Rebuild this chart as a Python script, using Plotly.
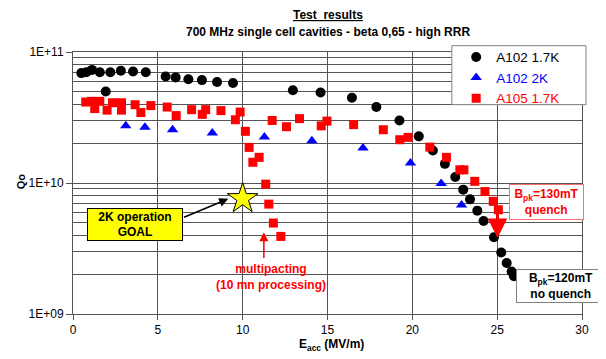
import plotly.graph_objects as go

# ---- data ----
a102_17k_eacc = [0.49, 0.79, 1.12, 1.58, 1.93, 2.2, 2.82, 3.54, 4.29, 5.46, 6.05, 6.8, 7.6, 8.49, 9.43,
                 12.96, 14.59, 16.44, 17.88, 19.24, 20.38, 21.21, 21.92, 22.53, 23.0, 23.4, 23.83,
                 24.2, 24.81, 25.24, 25.56, 25.85, 25.99]
a102_17k_q0 = [6.9e10, 7.0e10, 7.3e10, 7.0e10, 5.0e10, 7.0e10, 7.2e10, 7.1e10, 7.0e10, 6.5e10, 6.4e10,
               6.2e10, 6.1e10, 5.9e10, 5.8e10, 5.1e10, 4.9e10, 4.48e10, 3.8e10, 3.0e10, 2.27e10,
               1.77e10, 1.40e10, 1.11e10, 8.9e9, 7.5e9, 6.15e9, 5.13e9, 3.85e9, 2.95e9, 2.45e9,
               2.11e9, 1.94e9]

a102_2k_eacc = [3.11, 4.24, 5.87, 8.21, 11.28, 14.08, 17.09, 19.89, 21.7, 22.9]
a102_2k_q0 = [2.74e10, 2.67e10, 2.55e10, 2.41e10, 2.24e10, 2.1e10, 1.85e10, 1.42e10, 9.9e9, 6.8e9]

a105_17k_eacc = [0.75, 1.09, 1.28, 1.58, 2.01, 2.33, 2.86, 2.86, 3.66, 4.0, 4.59, 5.55, 6.08, 6.99,
                 7.62, 7.82, 8.72, 9.57, 9.85, 10.16, 10.38, 10.6, 10.97, 11.36, 11.54, 11.81, 12.25,
                 11.74, 12.58, 13.35, 14.63, 14.97, 16.54, 18.29, 19.26, 19.75, 21.03, 22.01, 22.8,
                 23.04, 23.68, 24.28, 24.77, 25.07]
a105_17k_q0 = [4.15e10, 4.2e10, 3.7e10, 4.2e10, 3.6e10, 4.1e10, 4.1e10, 3.6e10, 3.96e10, 3.45e10,
               3.9e10, 3.8e10, 3.27e10, 3.63e10, 3.34e10, 3.63e10, 3.57e10, 3.04e10, 3.48e10,
               2.48e10, 1.87e10, 1.44e10, 1.57e10, 9.8e9, 6.9e9, 4.95e9, 3.91e9, 3.0e10, 2.69e10,
               3.1e10, 2.73e10, 2.97e10, 2.79e10, 2.55e10, 2.14e10, 2.23e10, 1.88e10, 1.57e10,
               1.26e10, 1.26e10, 1.03e10, 8.6e9, 7.25e9, 6.25e9]

goal_eacc = [10]
goal_q0 = [7.6e9]

x_ticks = [0, 5, 10, 15, 20, 25, 30]
y_ticks = [1e9, 1e10, 1e11]
y_tick_labels = ["1E+09", "1E+10", "1E+11"]
y_minor = [k * 10 ** e for e in (9, 10) for k in range(2, 10)]

FONT = "Liberation Sans, Arial, sans-serif"
GRID = "#555555"

fig = go.Figure()
fig.add_trace(go.Scatter(x=a102_17k_eacc, y=a102_17k_q0, mode="markers", name="A102 1.7K",
                         marker=dict(symbol="circle", size=10, color="black")))
fig.add_trace(go.Scatter(x=a102_2k_eacc, y=a102_2k_q0, mode="markers",
                         name='<span style="color:#0000ff">A102 2K</span>',
                         marker=dict(symbol="triangle-up", size=10, color="#0000ff")))
fig.add_trace(go.Scatter(x=a105_17k_eacc, y=a105_17k_q0, mode="markers",
                         name='<span style="color:#ff0000">A105 1.7K</span>',
                         marker=dict(symbol="square", size=9, color="#ff0000")))
fig.add_trace(go.Scatter(x=goal_eacc, y=goal_q0, mode="markers", showlegend=False,
                         marker=dict(symbol="star", size=23, color="#ffff00",
                                     line=dict(color="black", width=1))))

C = dict(xanchor="center", yanchor="middle")
ann = []
# titles
ann.append(dict(xref="paper", yref="paper", x=0.5, y=1.142, text="<b><u>Test  results</u></b>",
                showarrow=False, font=dict(size=12), **C))
ann.append(dict(xref="paper", yref="paper", x=0.5, y=1.078,
                text="<b>700 MHz single cell cavities - beta 0,65 - high RRR</b>",
                showarrow=False, font=dict(size=12), **C))
ann.append(dict(xref="paper", yref="paper", x=-0.103, y=0.505, text="<b>Qo</b>", textangle=-90,
                showarrow=False, font=dict(size=11), **C))
ann.append(dict(xref="paper", yref="paper", x=0.508, y=-0.12, text="<b>E<sub>acc</sub> (MV/m)</b>",
                showarrow=False, font=dict(size=12), **C))
# goal box + arrow
ann.append(dict(x=3.65, y=9.684, text="<b>2K operation<br>GOAL</b>", showarrow=False,
                bgcolor="#ffff00", bordercolor="black", borderwidth=1, borderpad=2,
                width=90, height=27, font=dict(size=12), **C))
ann.append(dict(x=9.15, y=9.879, ax=6.455, ay=9.734, axref="x", ayref="y", text="",
                showarrow=True, arrowhead=2, arrowsize=1.2, arrowwidth=1.5, arrowcolor="black"))
# multipacting
ann.append(dict(x=11.65, y=9.282, text="<b>multipacting<br>(10 mn processing)</b>", showarrow=False,
                font=dict(size=12, color="#ff0000"), **C))
ann.append(dict(x=11.25, y=9.624, ax=11.25, ay=9.416, axref="x", ayref="y", text="",
                showarrow=True, arrowhead=2, arrowsize=1.2, arrowwidth=1.5, arrowcolor="#ff0000"))
# quench boxes
ann.append(dict(x=27.89, y=9.854, text="<b>B<sub>pk</sub>=130mT<br>quench</b>", showarrow=False,
                bgcolor="white", bordercolor="#ff7070", borderwidth=1, borderpad=2,
                width=69, height=30, font=dict(size=12, color="#ff0000"), **C))
ann.append(dict(x=25.02, y=9.581, ax=25.02, ay=9.797, axref="x", ayref="y", text="",
                showarrow=True, arrowhead=2, arrowsize=1.3, arrowwidth=3, arrowcolor="#ff0000"))
ann.append(dict(x=28.75, y=9.217, text="<b>B<sub>pk</sub>=120mT<br>no quench</b>", showarrow=False,
                bgcolor="white", bordercolor="#808080", borderwidth=1, borderpad=2,
                width=84, height=28, font=dict(size=12, color="black"), **C))

# legend frame
shapes = [dict(type="rect", xref="paper", yref="paper", x0=0.7443, x1=1.0079, y0=0.799, y1=1.024,
               fillcolor="white", line=dict(color="#808080", width=1), layer="above")]

fig.update_layout(
    width=598, height=351,
    margin=dict(l=65, r=24, t=44, b=45),
    paper_bgcolor="white", plot_bgcolor="white",
    font=dict(family=FONT, size=12, color="black"),
    annotations=ann,
    shapes=shapes,
    legend=dict(x=0.7528, y=1.039, xanchor="left", yanchor="top", bgcolor="rgba(0,0,0,0)",
                borderwidth=0, font=dict(size=13.5), tracegroupgap=0),
    xaxis=dict(range=[0, 30], tickvals=x_ticks, ticks="outside", ticklen=5, tickcolor=GRID,
               showgrid=True, gridcolor=GRID, gridwidth=1, zeroline=False,
               showline=True, linecolor=GRID, mirror=True, tickfont=dict(size=12)),
    yaxis=dict(type="log", range=[9, 11], tickvals=y_ticks, ticktext=y_tick_labels,
               ticks="outside", ticklen=6, tickcolor=GRID,
               showgrid=True, gridcolor=GRID, gridwidth=1, zeroline=False,
               showline=True, linecolor=GRID, mirror=True, tickfont=dict(size=12),
               minor=dict(tickvals=y_minor, showgrid=True, gridcolor=GRID, gridwidth=1, ticks="")),
)

fig.write_html("out.html")
